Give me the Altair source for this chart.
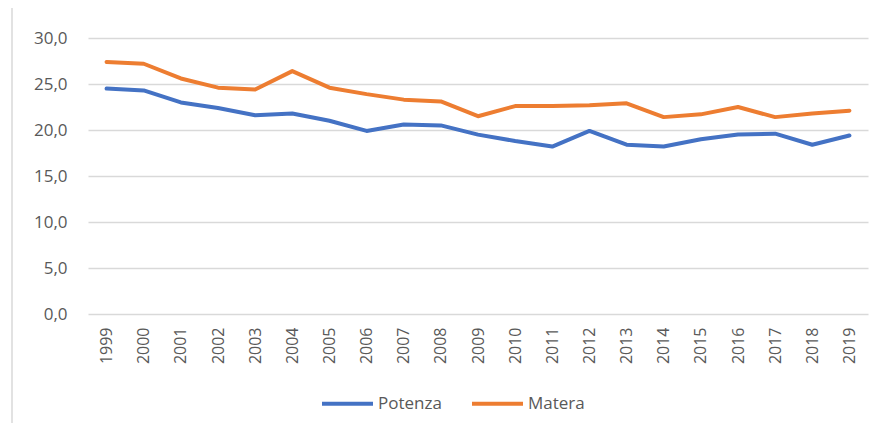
import altair as alt
import pandas as pd

years = [str(y) for y in range(1999, 2020)]
potenza = [24.5, 24.3, 23.0, 22.4, 21.6, 21.8, 21.0, 19.9, 20.6, 20.5, 19.5,
           18.8, 18.2, 19.9, 18.4, 18.2, 19.0, 19.5, 19.6, 18.4, 19.4]
matera = [27.4, 27.2, 25.6, 24.6, 24.4, 26.4, 24.6, 23.9, 23.3, 23.1, 21.5,
          22.6, 22.6, 22.7, 22.9, 21.4, 21.7, 22.5, 21.4, 21.8, 22.1]
series = ["Potenza", "Matera"]
colors = ["#4472C4", "#ED7D31"]

rows = []
for y, p, m in zip(years, potenza, matera):
    rows.append({"Anno": y, "Serie": "Potenza", "Valore": p})
    rows.append({"Anno": y, "Serie": "Matera", "Valore": m})
df = pd.DataFrame(rows)

FONT = "Open Sans"

lines = alt.Chart(df).mark_line(strokeWidth=4, strokeCap="round", strokeJoin="round").encode(
    x=alt.X("Anno:O", sort=years, title=None,
            scale=alt.Scale(paddingInner=0, paddingOuter=0.5),
            axis=alt.Axis(labelAngle=270, labelFont=FONT, labelFontSize=16,
                          labelColor="#595959", domain=False, ticks=False,
                          labelPadding=13, grid=False)),
    y=alt.Y("Valore:Q", title=None,
            scale=alt.Scale(domain=[0, 30], nice=False),
            axis=alt.Axis(values=[0, 5, 10, 15, 20, 25, 30],
                          labelExpr="replace(format(datum.value, '.1f'), '.', ',')",
                          labelFont=FONT, labelFontSize=17, labelColor="#595959",
                          domain=False, ticks=False, labelPadding=21,
                          gridColor="#d9d9d9", gridWidth=1.3)),
    color=alt.Color("Serie:N", sort=series,
                    scale=alt.Scale(domain=series, range=colors),
                    legend=alt.Legend(title=None, orient="none", direction="horizontal",
                                      legendX=232, legendY=338,
                                      symbolType="stroke", symbolSize=2601,
                                      symbolStrokeWidth=4,
                                      labelFont=FONT, labelFontSize=17,
                                      labelColor="#595959", columnPadding=22,
                                      labelOffset=3)),
)

border = alt.Chart(pd.DataFrame({"a": [0]})).mark_rule(color="#d9d9d9", strokeWidth=1.5).encode(
    x=alt.value(-76), y=alt.value(-30), y2=alt.value(393)
)

chart = alt.layer(border, lines).properties(
    width=780, height=276,
    background="white",
    autosize=alt.AutoSizeParams(type="none"),
    padding={"left": 80, "top": 30, "right": 4, "bottom": 109},
).configure_view(stroke=None)

chart.save("out.html", embed_options={"renderer": "svg", "actions": False})
